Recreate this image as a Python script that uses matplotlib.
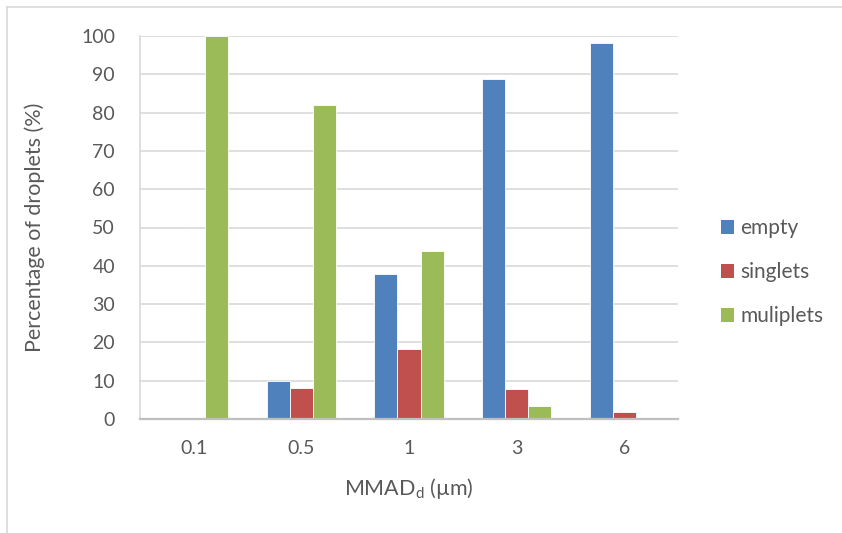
import numpy as np
import matplotlib
matplotlib.use("Agg")
import matplotlib.pyplot as plt
from matplotlib.lines import Line2D
from matplotlib.patches import Patch

plt.rcParams['font.family'] = ['Lato', 'DejaVu Sans']

categories = ["0.1", "0.5", "1", "3", "6"]
empty = [0.0, 10.0, 37.8, 88.8, 98.2]
singlets = [0.0, 8.1, 18.4, 7.8, 1.7]
multiplets = [100.0, 82.0, 43.9, 3.4, 0.0]
series_names = ["empty", "singlets", "muliplets"]
colors = ["#4f81bd", "#c0504d", "#9bbb59"]
yticks = list(range(0, 101, 10))

W, H = 842, 533
fig = plt.figure(figsize=(W / 100, H / 100), dpi=100)
ax = fig.add_axes([140 / W, 1 - 419 / H, (678 - 140) / W, (419 - 36) / H])

x = np.arange(len(categories))
bw = 0.214
text_color = "#595959"
for i, (vals, col) in enumerate(zip([empty, singlets, multiplets], colors)):
    ax.bar(x + (i - 1) * bw, vals, width=bw, color=col,
           edgecolor="white", linewidth=0.6, zorder=3)

ax.set_xlim(-0.5, len(categories) - 0.5)
ax.set_ylim(0, 100)
ax.set_yticks(yticks)
ax.set_xticks(x)
ax.set_xticklabels(categories)
ax.yaxis.grid(True, color="#d9d9d9", linewidth=1.2, zorder=0)
ax.tick_params(axis="both", length=0, labelsize=14, colors=text_color)
ax.tick_params(axis="x", pad=15)
ax.tick_params(axis="y", pad=18)

for s in ["top", "right"]:
    ax.spines[s].set_visible(False)
ax.spines["left"].set_color("#d9d9d9")
ax.spines["left"].set_linewidth(1.2)
ax.spines["bottom"].set_color("#bfbfbf")
ax.spines["bottom"].set_linewidth(1.6)
ax.spines["bottom"].set_zorder(4)

ax.set_ylabel("Percentage of droplets (%)", fontsize=15.5, color=text_color, labelpad=26)
ax.set_xlabel(r"MMAD$_\mathregular{d}$ (µm)", fontsize=15.5, color=text_color, labelpad=14)

handles = [Patch(facecolor=c, edgecolor="none") for c in colors]
leg = fig.legend(handles, series_names, loc="center left",
                 bbox_to_anchor=(702 / W, 1 - 272 / H), frameon=False,
                 fontsize=15, handlelength=0.65, handleheight=0.65,
                 handletextpad=0.3, labelspacing=1.15, labelcolor=text_color)

# chart-area border (left and top edges)
fig.add_artist(Line2D([7 / W, 7 / W], [0, 1 - 7 / H], transform=fig.transFigure,
                      color="#d9d9d9", linewidth=1.2))
fig.add_artist(Line2D([7 / W, 1], [1 - 7 / H, 1 - 7 / H], transform=fig.transFigure,
                      color="#d9d9d9", linewidth=1.2))

fig.savefig("out.png", dpi=100, facecolor="white")
